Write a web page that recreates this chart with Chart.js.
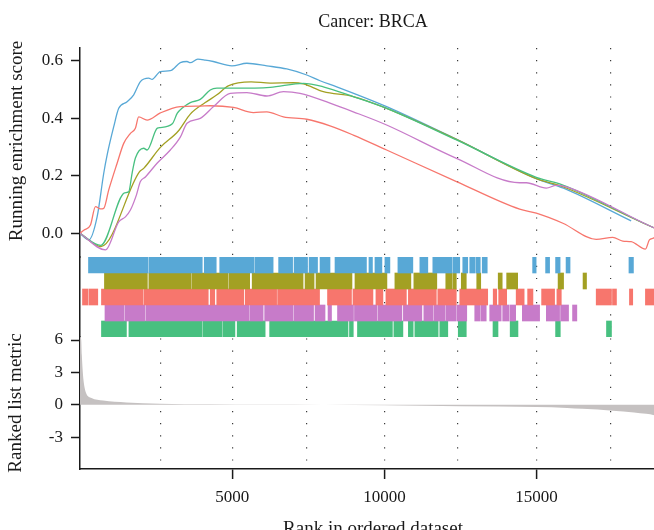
<!DOCTYPE html>
<html><head><meta charset="utf-8">
<script src="https://cdn.jsdelivr.net/npm/chart.js@4.4.1/dist/chart.umd.min.js"></script>
<style>html,body{margin:0;padding:0;background:#fff;overflow:hidden;width:654px;height:530px;}canvas{display:block;}</style>
</head><body>
<canvas id="c" width="666" height="545"></canvas>
<script>
// ---------- data ----------
const chartTitle = 'Cancer: BRCA';
const xTitle = 'Rank in ordered dataset';
const esTitle = 'Running enrichment score';
const metricTitle = 'Ranked list metric';
const xGridTicks = [2650, 5000, 7460, 10000, 12420, 15000, 17440];
const xTickLabels = [5000, 10000, 15000];
const esTicks = [0, 0.2, 0.4, 0.6];
const metricTicks = [-3, 0, 3, 6];
const rugRows = ['set1', 'set2', 'set3', 'set4', 'set5'];

// running enrichment score: [rank, ES]
const esBlue = [[0,0],[289,-0.023],[564,0.058],[780,0.209],[892,0.273],[1108,0.371],[1272,0.435],[1548,0.458],[1764,0.482],[1984,0.528],[2256,0.540],[2367,0.536],[2639,0.563],[2967,0.566],[3295,0.594],[3515,0.598],[3623,0.594],[3869,0.606],[4115,0.603],[4377,0.598],[4990,0.583],[5482,0.592],[6138,0.583],[6793,0.572],[7449,0.551],[7885,0.531],[8433,0.510],[10072,0.441],[12410,0.325],[14990,0.190],[15885,0.157],[18105,0.043]];
const esOlive = [[0,0],[689,-0.046],[1951,0.214],[2092,0.226],[2639,0.299],[3230,0.356],[3623,0.415],[4115,0.455],[4498,0.482],[4869,0.513],[5623,0.527],[6246,0.523],[7010,0.524],[7338,0.520],[7993,0.493],[8977,0.476],[10072,0.435],[12367,0.327],[14990,0.190],[15862,0.162],[18813,0.021],[19250,0.002]];
const esGreen = [[0,0],[682,-0.042],[1466,0.141],[1600,0.144],[1711,0.209],[1820,0.262],[2092,0.296],[2203,0.290],[2541,0.366],[2639,0.368],[3033,0.381],[3197,0.418],[3361,0.436],[3623,0.455],[3951,0.466],[4279,0.499],[4498,0.505],[5043,0.505],[6246,0.508],[7338,0.522],[7993,0.510],[8977,0.476],[10072,0.435],[12367,0.325],[14990,0.195],[15862,0.168],[18813,0.021],[19250,0.002]];
const esPurple = [[0,0],[836,-0.058],[1272,0.040],[1492,0.057],[1656,0.081],[1852,0.133],[1984,0.180],[2148,0.196],[2531,0.244],[2967,0.290],[3295,0.335],[3515,0.383],[3951,0.400],[4387,0.441],[4934,0.487],[5482,0.490],[6138,0.478],[6682,0.493],[7230,0.487],[8213,0.453],[8977,0.423],[10072,0.377],[12367,0.261],[14443,0.176],[14662,0.176],[15318,0.157],[15646,0.167],[15974,0.162],[18813,0.021],[19250,0.002]];
const esRed = [[0,0],[125,0.011],[344,0.029],[508,0.093],[672,0.085],[780,0.087],[944,0.151],[1220,0.244],[1436,0.313],[1656,0.348],[1820,0.366],[1928,0.405],[2203,0.394],[2639,0.419],[3295,0.441],[3951,0.443],[4279,0.444],[5043,0.438],[5698,0.420],[6138,0.423],[6682,0.405],[7449,0.397],[8213,0.374],[8977,0.342],[10072,0.290],[12367,0.180],[14443,0.084],[14990,0.070],[15862,0.035],[16957,-0.021],[17502,-0.014],[17830,-0.027],[18105,-0.029],[18574,-0.055],[18705,-0.023],[18836,-0.017],[19000,-0.004],[19250,0]];

// gene-set hits (rug): [startRank, endRank]
const hitsBlue = [[279,2229],[2262,4016],[4082,4475],[4590,5721],[5754,6344],[6525,6984],[7033,7475],[7525,7803],[7885,8213],[8377,9410],[9492,9607],[9689,9918],[10016,10180],[10443,10934],[11164,11426],[11590,12213],[12246,12475],[12574,12738],[12803,12967],[13000,13148],[13213,13377],[14869,14984],[15295,15426],[15623,15771],[15967,16098],[18033,18180]];
const hitsOlive = [[803,2213],[2262,3656],[3689,4869],[4902,5574],[5656,7328],[7393,7689],[7754,8934],[9033,10082],[10344,10869],[10967,11721],[12016,12230],[12262,12361],[12525,12689],[13033,13164],[13738,13869],[14016,14377],[15705,15885],[16525,16639]];
const hitsRed = [[82,262],[295,584],[705,2066],[2098,4213],[4279,4426],[4492,5377],[5426,6459],[6492,7869],[8131,8918],[8967,9623],[9721,9951],[10049,10721],[10787,11705],[11754,12361],[12475,13393],[13574,13689],[13754,14016],[14328,14590],[14705,14879],[15164,15590],[15666,15810],[16957,17459],[17492,17623],[18049,18157],[18574,19000]];
const hitsPurple = [[820,1443],[1475,2131],[2164,5541],[5574,6016],[6066,7000],[7033,7672],[7721,8049],[8148,8262],[8459,8984],[9016,9754],[9787,10574],[10623,11230],[11295,11590],[11623,11984],[12016,12361],[12393,12705],[12967,13148],[13180,13344],[13459,13836],[13885,14098],[14131,14311],[14531,15098],[15318,15754],[15787,16049],[16180,16321]];
const hitsGreen = [[705,1525],[1607,2852],[2869,4016],[4049,4656],[4689,5089],[5164,6082],[6230,8803],[8852,8977],[9115,10262],[10311,10607],[10787,10944],[11000,11764],[11820,12082],[12426,12689],[13567,13731],[14131,14387],[15623,15777],[17295,17459]];

// ranked list metric: [rank, metric]
const rankedMetric = [[0,6.4],[40,6.0],[60,4.6],[85,3.3],[110,2.4],[150,1.6],[213,1.0],[377,0.62],[760,0.38],[1525,0.2],[2616,0.08],[4246,0.03],[6000,0.01],[8000,-0.01],[10000,-0.06],[12500,-0.14],[15000,-0.22],[16000,-0.3],[16500,-0.38],[17500,-0.55],[18200,-0.72],[18600,-0.85],[18860,-0.98],[19250,-1.45]];

// ---------- styles ----------
const colBlue = '#58a8d6', colOlive = '#a3a023', colRed = '#f7766d', colPurple = '#c77bc9', colGreen = '#48c080';
const FONT = '"Liberation Serif", "DejaVu Serif", serif';
const INK = '#1a1a1a';
Chart.defaults.font.family = FONT;
Chart.defaults.color = INK;

const toXY = arr => arr.map(p => ({x: p[0], y: p[1]}));
const esLine = (data, color) => ({
  type: 'line', data: toXY(data), xAxisID: 'x', yAxisID: 'yES',
  borderColor: color, borderWidth: 1.3, pointRadius: 0, fill: false,
  cubicInterpolationMode: 'monotone'
});
const rug = (hits, row, color) => ({
  type: 'bar', indexAxis: 'y', xAxisID: 'x', yAxisID: 'yRug',
  data: hits.map(h => ({x: h, y: row})),
  backgroundColor: color, borderWidth: 0, grouped: false,
  barPercentage: 1, categoryPercentage: 1
});

const esTitlePlugin = {
  id: 'esTitle',
  afterDraw(chart) {
    const ctx = chart.ctx;
    ctx.save();
    ctx.translate(17, 141);
    ctx.rotate(-Math.PI / 2);
    ctx.font = '19px ' + FONT;
    ctx.fillStyle = INK;
    ctx.textAlign = 'center';
    ctx.textBaseline = 'middle';
    ctx.fillText(esTitle, 0, 0);
    ctx.restore();
  }
};

const leftAxisCommon = {
  position: 'left', stack: 'panels',
  afterFit: s => { s.width = 80; },
  border: {display: true, color: INK, width: 1.5},
  grid: {display: true, drawOnChartArea: false, drawTicks: true, tickLength: 9, tickWidth: 1.5, tickColor: INK},
  ticks: {font: {size: 17}, color: INK, padding: 8}
};

new Chart(document.getElementById('c'), {
  type: 'line',
  data: {
    datasets: [
      esLine(esPurple, colPurple),
      esLine(esRed, colRed),
      esLine(esGreen, colGreen),
      esLine(esOlive, colOlive),
      esLine(esBlue, colBlue),
      rug(hitsBlue, rugRows[0], colBlue),
      rug(hitsOlive, rugRows[1], colOlive),
      rug(hitsRed, rugRows[2], colRed),
      rug(hitsPurple, rugRows[3], colPurple),
      rug(hitsGreen, rugRows[4], colGreen),
      {
        type: 'line', data: toXY(rankedMetric), xAxisID: 'x', yAxisID: 'yMetric',
        borderColor: 'rgba(0,0,0,0)', borderWidth: 0, pointRadius: 0,
        backgroundColor: '#c5c1c1', fill: 'origin', cubicInterpolationMode: 'monotone'
      }
    ]
  },
  options: {
    responsive: false, animation: false, devicePixelRatio: 1, events: [],
    layout: {padding: 0},
    plugins: {
      legend: {display: false}, tooltip: {enabled: false},
      title: {display: true, text: chartTitle, fullSize: false, color: INK,
              font: {size: 18, weight: 'normal'}, padding: {top: 11, bottom: 15.4}}
    },
    scales: {
      x: {
        type: 'linear', position: 'bottom', min: 0, max: 19250,
        afterFit: s => { s.height = 76; },
        afterBuildTicks: s => { s.ticks = xGridTicks.map(v => ({value: v})); },
        ticks: {autoSkip: false, maxRotation: 0, font: {size: 17}, color: INK, padding: 8,
                callback: v => xTickLabels.includes(v) ? String(v) : ''},
        grid: {display: true, drawOnChartArea: true, color: '#3a3a3a', lineWidth: 1.2,
               drawTicks: true, tickLength: 10, tickWidth: 1.5,
               tickColor: c => (c.tick && xTickLabels.includes(c.tick.value)) ? INK : 'rgba(0,0,0,0)'},
        border: {display: true, color: INK, width: 1.5, dash: [1.2, 10.9]},
        title: {display: true, text: xTitle, color: INK, font: {size: 19}, padding: {top: 0, bottom: 5}}
      },
      yES: Object.assign({}, leftAxisCommon, {
        type: 'linear', min: -0.0825, max: 0.645, stackWeight: 209, weight: 3,
        afterBuildTicks: s => { s.ticks = esTicks.map(v => ({value: v})); },
        ticks: Object.assign({}, leftAxisCommon.ticks, {callback: v => v.toFixed(1)})
      }),
      yRug: {
        type: 'category', labels: rugRows, offset: true, position: 'left', stack: 'panels',
        stackWeight: 80, weight: 2,
        afterFit: s => { s.width = 80; },
        border: {display: true, color: INK, width: 1.5},
        grid: {display: false},
        ticks: {display: false}
      },
      yMetric: Object.assign({}, leftAxisCommon, {
        type: 'linear', min: -5.965, max: 6.28, stackWeight: 132, weight: 1,
        afterBuildTicks: s => { s.ticks = metricTicks.map(v => ({value: v})); },
        ticks: Object.assign({}, leftAxisCommon.ticks, {callback: v => String(v)}),
        title: {display: true, text: metricTitle, color: INK, font: {size: 19}, padding: {top: 5, bottom: 0}}
      })
    }
  },
  plugins: [esTitlePlugin]
});
</script>
</body></html>
